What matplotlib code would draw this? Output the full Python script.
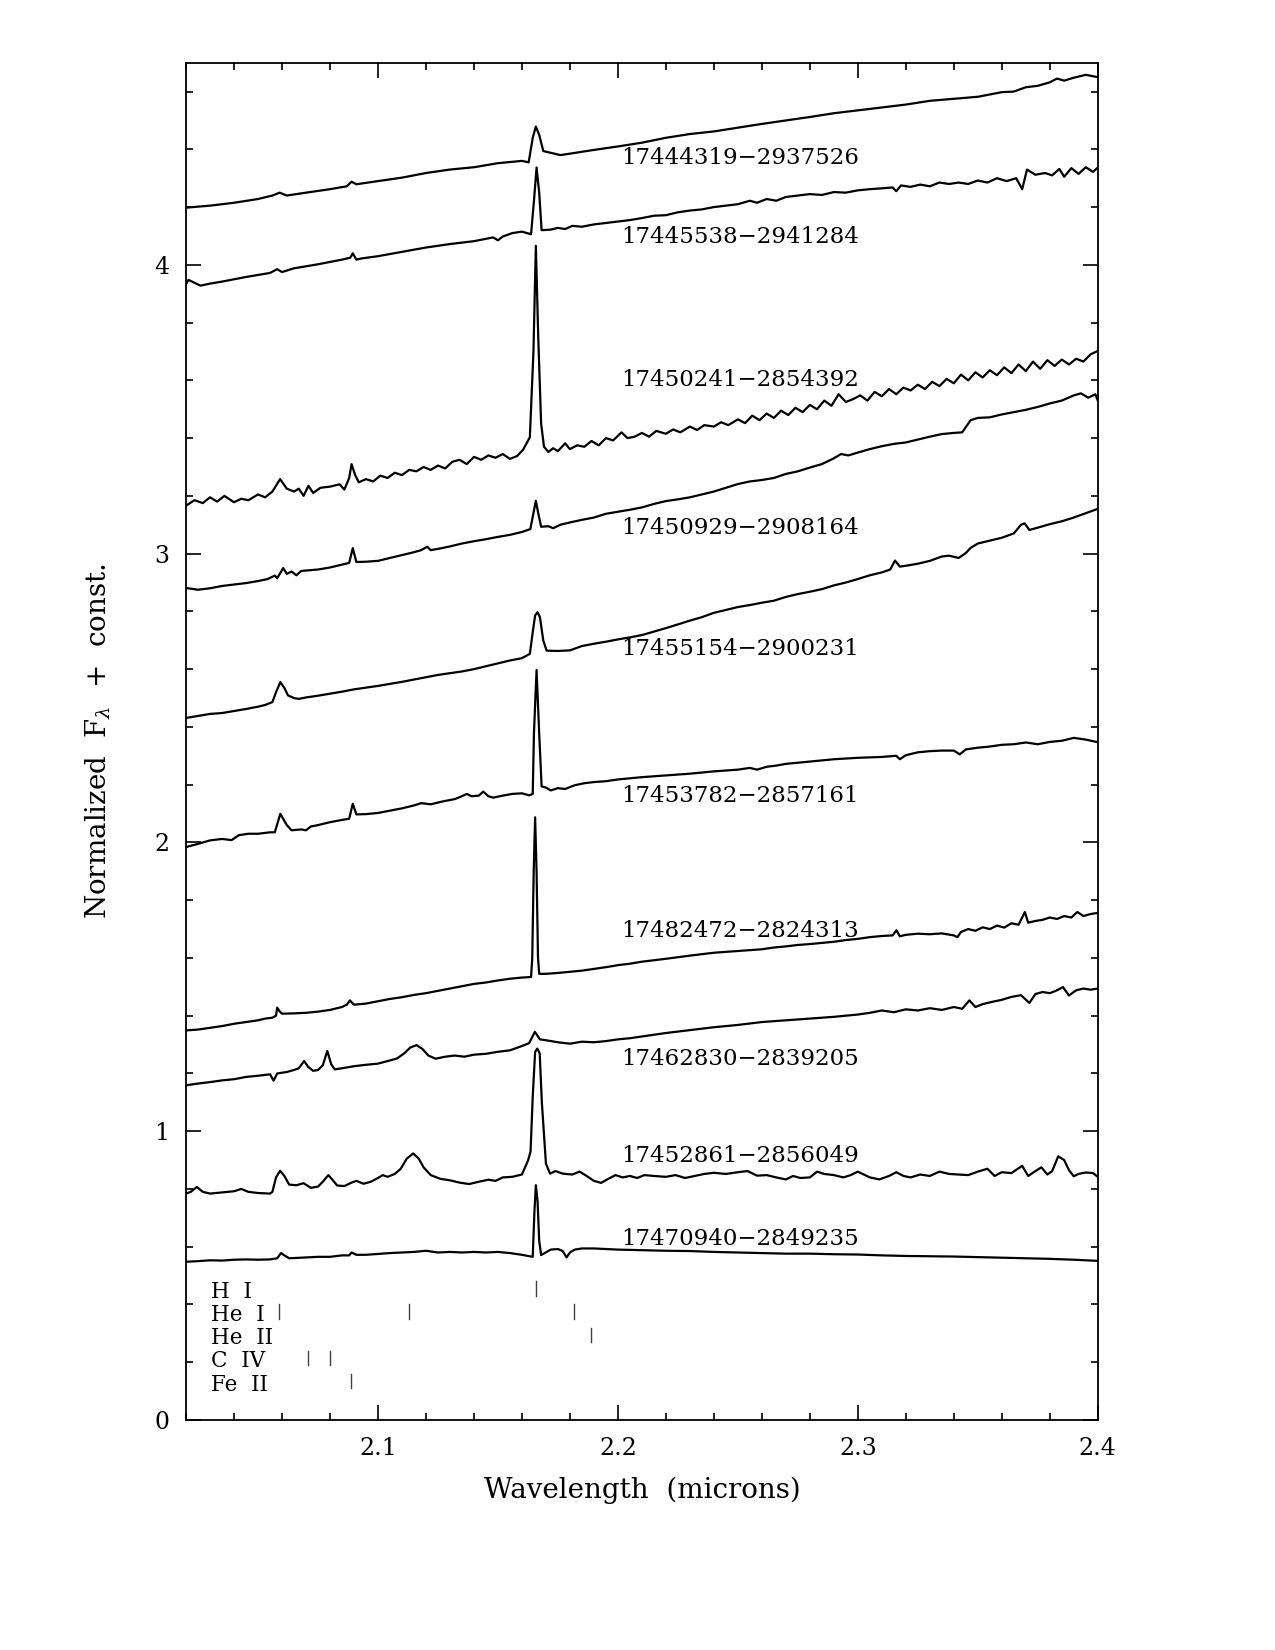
import numpy as np
import matplotlib
matplotlib.use("Agg")
import matplotlib.pyplot as plt
from matplotlib.ticker import MultipleLocator

plt.rcParams['font.family'] = ['DejaVu Serif']
plt.rcParams['mathtext.fontset'] = 'dejavuserif'

# --- spectra (wavelength in microns, normalized flux + offset) ---
s1_wl = [2.020, 2.030, 2.040, 2.050, 2.056, 2.059, 2.062, 2.070, 2.080, 2.087, 2.089, 2.091, 2.100, 2.110,
         2.120, 2.130, 2.140, 2.150, 2.160, 2.1628, 2.1645, 2.1658, 2.1672, 2.1689, 2.172, 2.176, 2.180, 2.190,
         2.200, 2.210, 2.220, 2.230, 2.240, 2.250, 2.260, 2.270, 2.280, 2.290, 2.300, 2.310, 2.320, 2.330,
         2.340, 2.350, 2.360, 2.365, 2.370, 2.375, 2.380, 2.383, 2.386, 2.390, 2.395, 2.400]
s1_f = [4.198, 4.205, 4.215, 4.228, 4.240, 4.250, 4.240, 4.250, 4.262, 4.272, 4.288, 4.279, 4.290, 4.302,
        4.318, 4.330, 4.338, 4.352, 4.360, 4.355, 4.440, 4.479, 4.450, 4.394, 4.388, 4.380, 4.385, 4.398,
        4.410, 4.423, 4.440, 4.453, 4.462, 4.475, 4.488, 4.500, 4.512, 4.525, 4.535, 4.545, 4.555, 4.568,
        4.575, 4.582, 4.598, 4.600, 4.615, 4.620, 4.632, 4.645, 4.638, 4.648, 4.658, 4.650]

s2_wl = [2.020, 2.021, 2.023, 2.026, 2.030, 2.035, 2.040, 2.045, 2.050, 2.055, 2.058, 2.060, 2.065, 2.070,
         2.075, 2.080, 2.085, 2.0885, 2.0895, 2.091, 2.093, 2.100, 2.110, 2.120, 2.130, 2.140, 2.148, 2.150,
         2.152, 2.156, 2.160, 2.1638, 2.1650, 2.1661, 2.1672, 2.1682, 2.172, 2.175, 2.178, 2.181, 2.185,
         2.190, 2.195, 2.200, 2.205, 2.210, 2.215, 2.220, 2.225, 2.230, 2.235, 2.240, 2.245, 2.250, 2.255,
         2.258, 2.262, 2.266, 2.270, 2.275, 2.280, 2.285, 2.290, 2.295, 2.300, 2.305, 2.310, 2.3145, 2.316,
         2.318, 2.322, 2.326, 2.330, 2.334, 2.338, 2.342, 2.346, 2.350, 2.354, 2.358, 2.362, 2.366, 2.3685,
         2.3705, 2.374, 2.378, 2.381, 2.384, 2.386, 2.389, 2.392, 2.395, 2.398, 2.400]
s2_f = [3.933, 3.948, 3.940, 3.928, 3.935, 3.942, 3.950, 3.958, 3.965, 3.972, 3.985, 3.975, 3.988, 3.995,
        4.002, 4.010, 4.018, 4.025, 4.040, 4.018, 4.022, 4.030, 4.045, 4.060, 4.072, 4.082, 4.095, 4.085,
        4.098, 4.110, 4.115, 4.106, 4.220, 4.337, 4.250, 4.120, 4.122, 4.128, 4.124, 4.135, 4.132,
        4.140, 4.145, 4.150, 4.155, 4.162, 4.170, 4.172, 4.182, 4.188, 4.192, 4.200, 4.205, 4.210, 4.222,
        4.215, 4.228, 4.222, 4.235, 4.240, 4.245, 4.242, 4.252, 4.250, 4.258, 4.262, 4.265, 4.268, 4.255,
        4.275, 4.270, 4.278, 4.272, 4.285, 4.280, 4.285, 4.280, 4.292, 4.285, 4.300, 4.290, 4.300, 4.262,
        4.330, 4.312, 4.318, 4.310, 4.332, 4.305, 4.335, 4.315, 4.338, 4.322, 4.337]

s3_wl = [2.020, 2.0235, 2.027, 2.030, 2.033, 2.036, 2.040, 2.043, 2.046, 2.050, 2.053, 2.056, 2.0592, 2.062,
         2.065, 2.067, 2.069, 2.071, 2.073, 2.076, 2.080, 2.084, 2.086, 2.088, 2.089, 2.0905, 2.092, 2.095,
         2.098, 2.101, 2.104, 2.107, 2.110, 2.113, 2.116, 2.119, 2.122, 2.125, 2.128, 2.131, 2.134, 2.137,
         2.140, 2.143, 2.146, 2.149, 2.152, 2.155, 2.158, 2.1605, 2.1633, 2.1648, 2.1658, 2.1668, 2.1680,
         2.1692, 2.171, 2.173, 2.175, 2.178, 2.180, 2.183, 2.186, 2.189, 2.192, 2.195, 2.198, 2.2015, 2.204,
         2.207, 2.210, 2.213, 2.216, 2.220, 2.223, 2.226, 2.230, 2.233, 2.236, 2.240, 2.243, 2.246, 2.250,
         2.253, 2.256, 2.259, 2.262, 2.265, 2.268, 2.271, 2.274, 2.277, 2.280, 2.283, 2.286, 2.289, 2.292,
         2.295, 2.298, 2.301, 2.304, 2.307, 2.310, 2.313, 2.316, 2.319, 2.322, 2.325, 2.328, 2.331, 2.334,
         2.337, 2.340, 2.343, 2.346, 2.349, 2.352, 2.355, 2.358, 2.361, 2.364, 2.367, 2.370, 2.373, 2.376,
         2.379, 2.382, 2.385, 2.388, 2.391, 2.394, 2.397, 2.400]
s3_f = [3.166, 3.185, 3.175, 3.195, 3.180, 3.200, 3.178, 3.190, 3.185, 3.205, 3.195, 3.215, 3.258, 3.225,
        3.215, 3.225, 3.200, 3.235, 3.210, 3.228, 3.232, 3.240, 3.222, 3.262, 3.310, 3.272, 3.247, 3.258,
        3.250, 3.270, 3.262, 3.280, 3.272, 3.290, 3.285, 3.300, 3.290, 3.305, 3.295, 3.318, 3.325, 3.310,
        3.335, 3.325, 3.340, 3.332, 3.345, 3.328, 3.338, 3.360, 3.403, 3.700, 4.066, 3.750, 3.450,
        3.370, 3.352, 3.365, 3.355, 3.382, 3.362, 3.375, 3.370, 3.390, 3.375, 3.400, 3.392, 3.420, 3.400,
        3.405, 3.418, 3.405, 3.425, 3.415, 3.430, 3.420, 3.440, 3.428, 3.445, 3.440, 3.455, 3.445, 3.465,
        3.452, 3.478, 3.462, 3.485, 3.470, 3.495, 3.480, 3.505, 3.490, 3.515, 3.500, 3.530, 3.512, 3.552,
        3.525, 3.535, 3.548, 3.530, 3.560, 3.545, 3.570, 3.552, 3.575, 3.565, 3.585, 3.570, 3.595, 3.580,
        3.605, 3.590, 3.620, 3.600, 3.628, 3.610, 3.635, 3.618, 3.645, 3.625, 3.655, 3.632, 3.665, 3.640,
        3.670, 3.650, 3.672, 3.655, 3.675, 3.665, 3.690, 3.702]

s4_wl = [2.020, 2.025, 2.030, 2.035, 2.040, 2.045, 2.050, 2.054, 2.057, 2.058, 2.0605, 2.062, 2.064, 2.066,
         2.068, 2.075, 2.080, 2.085, 2.088, 2.0895, 2.091, 2.095, 2.100, 2.105, 2.110, 2.115, 2.118, 2.1205,
         2.122, 2.126, 2.130, 2.135, 2.140, 2.145, 2.150, 2.155, 2.160, 2.1635, 2.1648, 2.1658, 2.1668,
         2.168, 2.171, 2.173, 2.176, 2.180, 2.185, 2.190, 2.195, 2.200, 2.205, 2.210, 2.215, 2.220, 2.225,
         2.230, 2.235, 2.240, 2.245, 2.250, 2.255, 2.260, 2.265, 2.270, 2.275, 2.280, 2.285, 2.290, 2.293,
         2.296, 2.300, 2.305, 2.310, 2.315, 2.320, 2.325, 2.330, 2.335, 2.340, 2.3435, 2.347, 2.350, 2.355,
         2.360, 2.365, 2.370, 2.375, 2.380, 2.385, 2.390, 2.393, 2.396, 2.399, 2.400]
s4_f = [2.881, 2.875, 2.880, 2.888, 2.893, 2.898, 2.905, 2.912, 2.924, 2.915, 2.950, 2.930, 2.938, 2.925,
        2.940, 2.945, 2.952, 2.962, 2.968, 3.019, 2.971, 2.972, 2.975, 2.985, 2.995, 3.005, 3.012, 3.024,
        3.012, 3.018, 3.025, 3.035, 3.043, 3.050, 3.058, 3.065, 3.075, 3.085, 3.140, 3.183, 3.140,
        3.093, 3.095, 3.088, 3.100, 3.108, 3.117, 3.125, 3.138, 3.145, 3.152, 3.160, 3.172, 3.182, 3.188,
        3.195, 3.205, 3.215, 3.228, 3.241, 3.250, 3.255, 3.262, 3.276, 3.285, 3.298, 3.310, 3.330, 3.345,
        3.340, 3.350, 3.362, 3.372, 3.380, 3.385, 3.395, 3.405, 3.414, 3.418, 3.420, 3.462, 3.470, 3.472,
        3.482, 3.490, 3.498, 3.508, 3.520, 3.530, 3.548, 3.555, 3.540, 3.552, 3.530]

s5_wl = [2.020, 2.025, 2.030, 2.035, 2.040, 2.045, 2.050, 2.053, 2.056, 2.0575, 2.0593, 2.061, 2.0625, 2.065,
         2.067, 2.070, 2.075, 2.080, 2.085, 2.090, 2.095, 2.100, 2.105, 2.110, 2.115, 2.120, 2.125, 2.130,
         2.135, 2.140, 2.145, 2.150, 2.155, 2.160, 2.1633, 2.1644, 2.1655, 2.1665, 2.1675, 2.1689, 2.1703,
         2.175, 2.180, 2.185, 2.190, 2.195, 2.200, 2.205, 2.210, 2.215, 2.220, 2.225, 2.230, 2.235, 2.240,
         2.245, 2.250, 2.255, 2.260, 2.265, 2.270, 2.275, 2.280, 2.285, 2.290, 2.295, 2.300, 2.305, 2.310,
         2.3135, 2.3155, 2.3175, 2.320, 2.325, 2.330, 2.335, 2.338, 2.342, 2.345, 2.347, 2.350, 2.355, 2.360,
         2.365, 2.368, 2.3695, 2.3715, 2.375, 2.380, 2.385, 2.390, 2.395, 2.400]
s5_f = [2.431, 2.438, 2.445, 2.448, 2.455, 2.462, 2.470, 2.476, 2.486, 2.520, 2.555, 2.535, 2.509, 2.500,
        2.497, 2.502, 2.508, 2.515, 2.522, 2.530, 2.536, 2.542, 2.549, 2.556, 2.564, 2.572, 2.580, 2.586,
        2.592, 2.600, 2.610, 2.620, 2.630, 2.638, 2.653, 2.722, 2.786, 2.797, 2.780, 2.699, 2.664,
        2.663, 2.665, 2.680, 2.688, 2.695, 2.703, 2.710, 2.718, 2.730, 2.742, 2.755, 2.768, 2.780, 2.795,
        2.805, 2.815, 2.822, 2.830, 2.837, 2.850, 2.860, 2.868, 2.877, 2.890, 2.900, 2.912, 2.925, 2.935,
        2.945, 2.976, 2.955, 2.958, 2.965, 2.975, 2.990, 2.993, 2.985, 3.002, 3.020, 3.035, 3.045, 3.055,
        3.070, 3.100, 3.105, 3.082, 3.090, 3.102, 3.112, 3.125, 3.140, 3.155]

s6_wl = [2.020, 2.025, 2.030, 2.035, 2.039, 2.042, 2.046, 2.050, 2.055, 2.057, 2.0593, 2.062, 2.064, 2.068,
         2.070, 2.072, 2.075, 2.080, 2.085, 2.088, 2.0895, 2.091, 2.095, 2.100, 2.105, 2.110, 2.115, 2.118,
         2.122, 2.127, 2.132, 2.135, 2.137, 2.139, 2.142, 2.1439, 2.146, 2.148, 2.152, 2.156, 2.160, 2.163,
         2.1645, 2.1650, 2.1661, 2.1672, 2.1682, 2.170, 2.172, 2.175, 2.178, 2.182, 2.186, 2.190, 2.195,
         2.200, 2.205, 2.210, 2.220, 2.230, 2.240, 2.250, 2.255, 2.258, 2.262, 2.266, 2.270, 2.280, 2.290,
         2.300, 2.310, 2.316, 2.3175, 2.320, 2.325, 2.330, 2.335, 2.340, 2.3425, 2.345, 2.350, 2.355, 2.360,
         2.365, 2.370, 2.375, 2.380, 2.385, 2.390, 2.395, 2.400]
s6_f = [1.984, 1.995, 2.007, 2.012, 2.008, 2.025, 2.030, 2.030, 2.035, 2.035, 2.099, 2.060, 2.042, 2.045,
        2.042, 2.055, 2.060, 2.070, 2.078, 2.082, 2.134, 2.097, 2.098, 2.102, 2.110, 2.118, 2.128, 2.136,
        2.132, 2.142, 2.150, 2.160, 2.168, 2.160, 2.162, 2.176, 2.160, 2.155, 2.162, 2.168, 2.170, 2.163,
        2.168, 2.376, 2.597, 2.376, 2.194, 2.190, 2.180, 2.188, 2.185, 2.198, 2.205, 2.209, 2.212,
        2.218, 2.222, 2.226, 2.232, 2.238, 2.246, 2.252, 2.258, 2.252, 2.262, 2.266, 2.272, 2.280, 2.288,
        2.293, 2.296, 2.300, 2.288, 2.302, 2.312, 2.316, 2.318, 2.318, 2.305, 2.322, 2.328, 2.332, 2.338,
        2.340, 2.346, 2.340, 2.348, 2.352, 2.362, 2.356, 2.347]

s7_wl = [2.020, 2.025, 2.030, 2.035, 2.040, 2.045, 2.050, 2.053, 2.056, 2.0575, 2.058, 2.059, 2.060, 2.065,
         2.070, 2.075, 2.080, 2.085, 2.087, 2.0883, 2.090, 2.095, 2.100, 2.105, 2.110, 2.115, 2.120, 2.125,
         2.130, 2.135, 2.140, 2.145, 2.150, 2.155, 2.160, 2.1638, 2.1643, 2.1649, 2.1655, 2.1661, 2.1667,
         2.1672, 2.170, 2.175, 2.180, 2.185, 2.190, 2.195, 2.200, 2.205, 2.210, 2.220, 2.230, 2.240, 2.250,
         2.260, 2.265, 2.270, 2.275, 2.280, 2.285, 2.290, 2.295, 2.300, 2.305, 2.310, 2.3145, 2.3161, 2.3175,
         2.320, 2.325, 2.330, 2.335, 2.340, 2.3415, 2.343, 2.346, 2.349, 2.352, 2.355, 2.358, 2.361, 2.364,
         2.367, 2.3696, 2.371, 2.374, 2.377, 2.380, 2.383, 2.386, 2.389, 2.3915, 2.394, 2.397, 2.400]
s7_f = [1.349, 1.352, 1.358, 1.364, 1.372, 1.378, 1.384, 1.390, 1.393, 1.400, 1.428, 1.415, 1.407, 1.408,
        1.410, 1.414, 1.420, 1.430, 1.438, 1.453, 1.438, 1.442, 1.450, 1.458, 1.464, 1.472, 1.478, 1.486,
        1.494, 1.502, 1.510, 1.515, 1.522, 1.528, 1.532, 1.534, 1.600, 1.900, 2.087, 1.900, 1.600,
        1.545, 1.545, 1.548, 1.552, 1.556, 1.562, 1.568, 1.575, 1.580, 1.587, 1.597, 1.608, 1.618, 1.624,
        1.630, 1.636, 1.640, 1.645, 1.648, 1.652, 1.656, 1.662, 1.666, 1.672, 1.676, 1.678, 1.696, 1.675,
        1.680, 1.684, 1.682, 1.685, 1.678, 1.672, 1.690, 1.700, 1.694, 1.706, 1.700, 1.712, 1.705, 1.720,
        1.715, 1.759, 1.722, 1.728, 1.732, 1.740, 1.735, 1.745, 1.740, 1.759, 1.745, 1.752, 1.756]

s8_wl = [2.020, 2.025, 2.030, 2.035, 2.040, 2.045, 2.050, 2.055, 2.0565, 2.058, 2.062, 2.065, 2.067, 2.0692,
         2.071, 2.073, 2.075, 2.077, 2.0789, 2.0805, 2.082, 2.085, 2.090, 2.095, 2.100, 2.105, 2.108, 2.111,
         2.1135, 2.1161, 2.1185, 2.121, 2.124, 2.128, 2.132, 2.136, 2.140, 2.145, 2.150, 2.155, 2.160, 2.163,
         2.1654, 2.1675, 2.170, 2.175, 2.180, 2.185, 2.190, 2.195, 2.200, 2.205, 2.210, 2.220, 2.230, 2.240,
         2.250, 2.260, 2.270, 2.280, 2.290, 2.300, 2.305, 2.310, 2.315, 2.320, 2.325, 2.330, 2.335, 2.340,
         2.3435, 2.3465, 2.349, 2.352, 2.356, 2.360, 2.364, 2.368, 2.3715, 2.374, 2.377, 2.380, 2.3825,
         2.3855, 2.388, 2.391, 2.394, 2.397, 2.400]
s8_f = [1.159, 1.165, 1.170, 1.176, 1.180, 1.188, 1.192, 1.197, 1.175, 1.200, 1.205, 1.212, 1.218, 1.243,
        1.222, 1.209, 1.212, 1.228, 1.278, 1.232, 1.214, 1.218, 1.225, 1.230, 1.234, 1.245, 1.252, 1.270,
        1.290, 1.298, 1.285, 1.262, 1.251, 1.258, 1.262, 1.258, 1.265, 1.268, 1.275, 1.280, 1.295, 1.305,
        1.344, 1.318, 1.315, 1.308, 1.303, 1.310, 1.308, 1.312, 1.318, 1.322, 1.328, 1.340, 1.350, 1.360,
        1.368, 1.378, 1.384, 1.390, 1.396, 1.404, 1.410, 1.418, 1.412, 1.422, 1.418, 1.426, 1.420, 1.430,
        1.424, 1.453, 1.430, 1.440, 1.448, 1.455, 1.465, 1.471, 1.444, 1.475, 1.482, 1.478, 1.486,
        1.499, 1.470, 1.488, 1.494, 1.490, 1.494]

s9_wl = [2.020, 2.022, 2.0245, 2.027, 2.030, 2.035, 2.040, 2.043, 2.046, 2.050, 2.055, 2.056, 2.0575, 2.0592,
         2.061, 2.063, 2.066, 2.069, 2.072, 2.075, 2.077, 2.0793, 2.081, 2.083, 2.086, 2.089, 2.091, 2.094,
         2.097, 2.100, 2.102, 2.104, 2.107, 2.1095, 2.112, 2.1147, 2.117, 2.119, 2.122, 2.126, 2.130, 2.134,
         2.138, 2.142, 2.146, 2.149, 2.152, 2.156, 2.160, 2.1626, 2.1636, 2.1645, 2.1655, 2.1664, 2.1674,
         2.1683, 2.1700, 2.1717, 2.174, 2.177, 2.181, 2.184, 2.187, 2.190, 2.193, 2.196, 2.199, 2.202, 2.205,
         2.208, 2.211, 2.215, 2.220, 2.224, 2.228, 2.232, 2.236, 2.240, 2.245, 2.250, 2.254, 2.258, 2.262,
         2.266, 2.270, 2.273, 2.276, 2.280, 2.283, 2.286, 2.290, 2.294, 2.297, 2.300, 2.305, 2.309, 2.313,
         2.316, 2.319, 2.322, 2.326, 2.330, 2.334, 2.338, 2.342, 2.346, 2.350, 2.354, 2.357, 2.360, 2.364,
         2.3685, 2.371, 2.374, 2.3765, 2.379, 2.381, 2.3835, 2.386, 2.388, 2.390, 2.392, 2.395, 2.398, 2.400]
s9_f = [0.784, 0.790, 0.807, 0.790, 0.784, 0.788, 0.792, 0.800, 0.790, 0.786, 0.784, 0.790, 0.840, 0.863,
        0.845, 0.815, 0.813, 0.820, 0.804, 0.808, 0.825, 0.848, 0.832, 0.812, 0.810, 0.822, 0.828, 0.818,
        0.825, 0.838, 0.848, 0.842, 0.852, 0.870, 0.905, 0.923, 0.905, 0.875, 0.848, 0.835, 0.830, 0.822,
        0.817, 0.825, 0.832, 0.828, 0.840, 0.842, 0.850, 0.900, 0.930, 1.120, 1.275, 1.286, 1.270,
        1.100, 0.888, 0.853, 0.862, 0.853, 0.850, 0.860, 0.845, 0.828, 0.821, 0.835, 0.848, 0.840, 0.845,
        0.838, 0.848, 0.845, 0.842, 0.848, 0.838, 0.845, 0.852, 0.856, 0.852, 0.858, 0.862, 0.846, 0.848,
        0.840, 0.833, 0.845, 0.838, 0.840, 0.860, 0.852, 0.848, 0.840, 0.848, 0.860, 0.840, 0.833, 0.845,
        0.858, 0.845, 0.840, 0.850, 0.845, 0.860, 0.852, 0.850, 0.848, 0.860, 0.870, 0.845, 0.858, 0.855,
        0.880, 0.845, 0.862, 0.875, 0.850, 0.862, 0.913, 0.900, 0.865, 0.844, 0.852, 0.857, 0.855, 0.842]

s10_wl = [2.020, 2.025, 2.030, 2.035, 2.040, 2.045, 2.050, 2.055, 2.058, 2.0596, 2.061, 2.063, 2.068, 2.075,
          2.080, 2.085, 2.088, 2.089, 2.091, 2.095, 2.100, 2.105, 2.110, 2.115, 2.120, 2.125, 2.130, 2.135,
          2.140, 2.145, 2.150, 2.155, 2.160, 2.1645, 2.1652, 2.1658, 2.1665, 2.1672, 2.1680, 2.172, 2.175,
          2.177, 2.1786, 2.180, 2.182, 2.185, 2.190, 2.195, 2.200, 2.210, 2.220, 2.230, 2.240, 2.250, 2.260,
          2.270, 2.280, 2.290, 2.300, 2.310, 2.320, 2.330, 2.340, 2.350, 2.360, 2.370, 2.380, 2.390, 2.400]
s10_f = [0.548, 0.550, 0.553, 0.552, 0.555, 0.556, 0.555, 0.556, 0.560, 0.578, 0.570, 0.560, 0.562, 0.565,
         0.565, 0.570, 0.570, 0.580, 0.572, 0.572, 0.575, 0.578, 0.580, 0.582, 0.586, 0.580, 0.582, 0.580,
         0.582, 0.580, 0.582, 0.578, 0.572, 0.565, 0.720, 0.813, 0.760, 0.620, 0.571, 0.590, 0.592,
         0.585, 0.563, 0.580, 0.590, 0.594, 0.594, 0.592, 0.590, 0.588, 0.586, 0.585, 0.582, 0.580, 0.578,
         0.576, 0.576, 0.574, 0.573, 0.570, 0.568, 0.567, 0.566, 0.564, 0.562, 0.560, 0.558, 0.555, 0.551]

names = ["17444319\u22122937526", "17445538\u22122941284", "17450241\u22122854392", "17450929\u22122908164",
         "17455154\u22122900231", "17453782\u22122857161", "17482472\u22122824313", "17462830\u22122839205",
         "17452861\u22122856049", "17470940\u22122849235"]
name_y = [4.349, 4.077, 3.579, 3.068, 2.649, 2.139, 1.672, 1.228, 0.892, 0.606]

# line identifications
ions = ["H  I", "He  I", "He  II", "C  IV", "Fe  II"]
ion_y = [0.455, 0.375, 0.295, 0.215, 0.135]
ion_lines = [[2.1658], [2.0589, 2.1129, 2.1818], [2.1888], [2.0707, 2.0800], [2.0888]]

spectra = [(s1_wl, s1_f), (s2_wl, s2_f), (s3_wl, s3_f), (s4_wl, s4_f), (s5_wl, s5_f),
           (s6_wl, s6_f), (s7_wl, s7_f), (s8_wl, s8_f), (s9_wl, s9_f), (s10_wl, s10_f)]

fig = plt.figure(figsize=(12.75, 16.5), dpi=100)
ax = fig.add_axes([0.1459, 0.1394, 0.861 - 0.1459, 0.962 - 0.1394])

for (wl, f), name, ny in zip(spectra, names, name_y):
    ax.plot(wl, f, color='black', lw=1.6)
    ax.text(2.2013, ny, name, fontsize=16.5, va='baseline', ha='left')

for ion, y, lines in zip(ions, ion_y, ion_lines):
    ax.text(2.0304, y - 0.033, ion, fontsize=15.5, va='baseline', ha='left')
    for lw_ in lines:
        ax.plot([lw_, lw_], [y - 0.025, y + 0.025], color='0.25', lw=1.0)

ax.set_xlim(2.02, 2.4)
ax.set_ylim(0, 4.7)
ax.xaxis.set_major_locator(MultipleLocator(0.1))
ax.xaxis.set_minor_locator(MultipleLocator(0.02))
ax.yaxis.set_major_locator(MultipleLocator(1))
ax.yaxis.set_minor_locator(MultipleLocator(0.2))
ax.tick_params(which='both', direction='in', top=True, right=True, width=1.2, labelsize=17)
ax.tick_params(which='major', length=10.5, pad=12)
ax.tick_params(which='minor', length=5.3)
for sp in ax.spines.values():
    sp.set_linewidth(1.3)

ax.set_xlabel('Wavelength  (microns)', fontsize=20, labelpad=12)
ax.set_ylabel(r'Normalized  F$_{\lambda}$  +  const.', fontsize=20, labelpad=30)

fig.savefig('out.png', dpi=100)
